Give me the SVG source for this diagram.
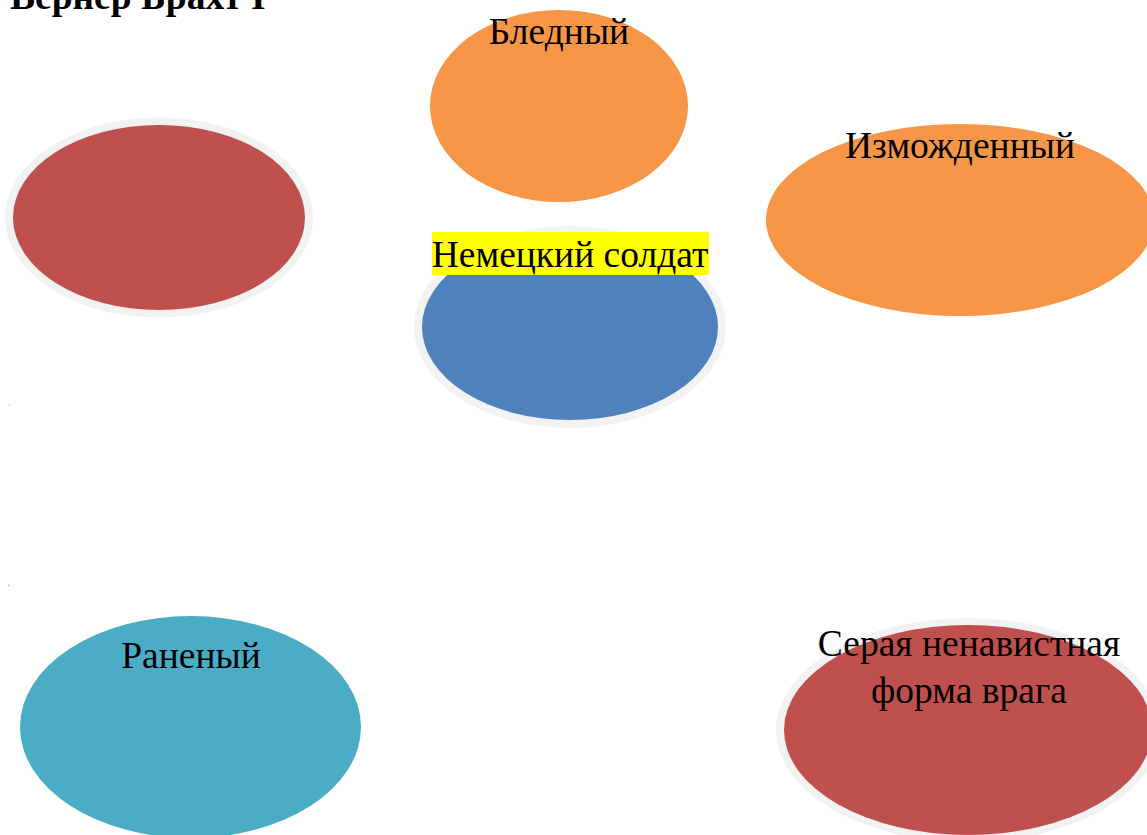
<svg xmlns="http://www.w3.org/2000/svg" width="1147" height="835" viewBox="0 0 1147 835">
<style>
.halo{fill:#f2f2f2}
.t{font-family:"Liberation Serif","Times New Roman",serif;font-size:37.5px;fill:#000;text-anchor:middle}
.title{font-family:"Liberation Serif","Times New Roman",serif;font-size:37.5px;font-weight:bold;fill:#000}
</style>
<rect width="1147" height="835" fill="#fff"/>
<text class="title" x="10" y="9">Вернер Брахт I</text>
<g id="node-pale">
<ellipse cx="559" cy="106" rx="129" ry="96" fill="#f79646"/>
<text class="t" x="559" y="44">Бледный</text>
</g>
<g id="node-red-left">
<ellipse class="halo" cx="159" cy="217.5" rx="154" ry="100"/>
<ellipse cx="159" cy="217.5" rx="146" ry="92.5" fill="#c0504d"/>
</g>
<g id="node-exhausted">
<ellipse cx="960" cy="220" rx="194" ry="96" fill="#f79646"/>
<text class="t" x="960" y="158">Изможденный</text>
</g>
<g id="node-soldier">
<ellipse class="halo" cx="570" cy="327" rx="156" ry="101"/>
<ellipse cx="570" cy="327" rx="148" ry="93" fill="#4f81bd"/>
<rect x="432" y="232" width="277" height="43" fill="#ffff00"/>
<text class="t" x="570" y="267">Немецкий солдат</text>
</g>
<g id="node-wounded">
<ellipse cx="190.5" cy="727" rx="170.5" ry="111" fill="#4bacc6"/>
<text class="t" x="191" y="668">Раненый</text>
</g>
<g id="node-uniform">
<ellipse class="halo" cx="968" cy="730" rx="192" ry="112"/>
<ellipse cx="968" cy="730" rx="184" ry="105" fill="#c0504d"/>
<text class="t" x="969" y="656">Серая ненавистная</text>
<text class="t" x="969" y="703">форма врага</text>
</g>
<g id="connectors">
<rect x="8.5" y="404.5" width="1" height="1" fill="#8ea9d8"/>
<rect x="8.5" y="584.5" width="1" height="2" fill="#8ea9d8"/>
</g>
</svg>
